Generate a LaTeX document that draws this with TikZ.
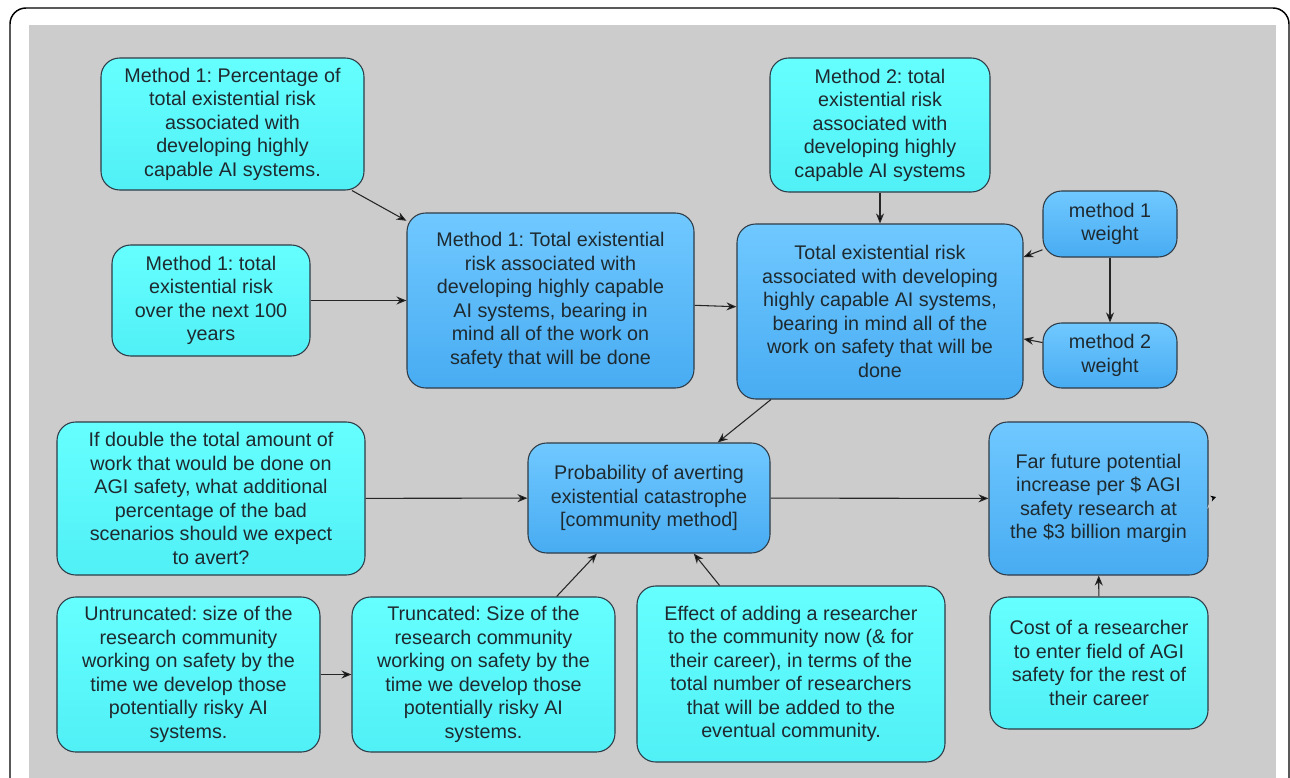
\documentclass[tikz,border=0pt]{standalone}
\usepackage{fontspec}
\setmainfont{Liberation Sans}
\frenchspacing
\usetikzlibrary{arrows.meta,positioning}
\definecolor{bggrey}{HTML}{CCCCCC}
\definecolor{cyantop}{HTML}{66FFFF}
\definecolor{cyanbot}{HTML}{50F0F6}
\definecolor{bluetop}{HTML}{70C8FF}
\definecolor{bluebot}{HTML}{48ACF2}
\definecolor{edgecol}{HTML}{2E3B46}
\definecolor{textcol}{HTML}{1E2A30}

\begin{document}
\begin{tikzpicture}[x=0.75pt,y=-0.75pt,->,>={Stealth[length=7.5pt,width=6pt]},line width=0.8pt,
    input node/.style={draw=edgecol,rounded corners=14pt,top color=cyantop,bottom color=cyanbot,
        align=center,inner sep=0pt,text=textcol,font=\fontsize{14.8}{17.6}\selectfont},
    calc node/.style={input node,top color=bluetop,bottom color=bluebot}]

                % page frame
                \useasboundingbox (0,0) rectangle (1290,778);
                \clip (0,0) rectangle (1290,778);
                \fill[white] (0,0) rectangle (1290,778);
                \draw[-,line width=1.1pt,rounded corners=12pt] (10,8) rectangle (1289,830);
                \fill[bggrey] (29,25) rectangle (1276,800);

                % top row
                \node[input node,minimum width=197.25pt,minimum height=99pt] (pct) at (232.5,124)
                    {Method 1: Percentage of\\total existential risk\\associated with\\developing highly\\capable AI systems.};
                \node[input node,minimum width=148.5pt,minimum height=83.25pt] (hundred) at (211,300.5)
                    {Method 1: total\\existential risk\\over the next 100\\years};
                \node[calc node,minimum width=215.25pt,minimum height=131.25pt] (mone) at (550.5,300.5)
                    {Method 1: Total existential\\risk associated with\\developing highly capable\\AI systems, bearing in\\mind all of the work on\\safety that will be done};
                \node[input node,minimum width=165pt,minimum height=100.5pt] (mtwo) at (880,125)
                    {Method 2: total\\existential risk\\associated with\\developing highly\\capable AI systems};
                \node[calc node,minimum width=214.5pt,minimum height=131.25pt] (total) at (880,311.5)
                    {Total existential risk\\associated with developing\\highly capable AI systems,\\bearing in mind all of the\\work on safety that will be\\done};
                \node[calc node,minimum width=100.5pt,minimum height=49.5pt] (wone) at (1110,224)
                    {method 1\\weight};
                \node[calc node,minimum width=100.5pt,minimum height=48.75pt] (wtwo) at (1110,355.5)
                    {method 2\\weight};

                % middle row
                \node[input node,minimum width=231pt,minimum height=114.75pt] (double) at (211,498.5)
                    {If double the total amount of\\work that would be done on\\AGI safety, what additional\\percentage of the bad\\scenarios should we expect\\to avert?};
                \node[calc node,minimum width=181.5pt,minimum height=82.5pt] (prob) at (649,498)
                    {Probability of averting\\existential catastrophe\\{[community method]}};
                \node[calc node,minimum width=164.25pt,minimum height=114.75pt] (far) at (1098.5,498.5)
                    {Far future potential\\increase per \$ AGI\\safety research at\\the \$3 billion margin};

                % bottom row
                \node[input node,minimum width=197.25pt,minimum height=116.25pt] (untrunc) at (188.5,674.5)
                    {Untruncated: size of the\\research community\\working on safety by the\\time we develop those\\potentially risky AI\\systems.};
                \node[input node,minimum width=197.25pt,minimum height=116.25pt] (trunc) at (483.5,674.5)
                    {Truncated: Size of the\\research community\\working on safety by the\\time we develop those\\potentially risky AI\\systems.};
                \node[input node,minimum width=231pt,minimum height=132pt] (effect) at (791,674)
                    {Effect of adding a researcher\\to the community now (\& for\\their career), in terms of the\\total number of researchers\\that will be added to the\\eventual community.};
                \node[input node,minimum width=163.5pt,minimum height=99pt] (cost) at (1099,663)
                    {Cost of a researcher\\to enter field of AGI\\safety for the rest of\\their career};

                \coordinate (stub) at (1216,497);

                \path[draw=black!85]
                    (pct) edge (mone)
                    (hundred) edge (mone)
                    (mone) edge (total)
                    (mtwo) edge (total)
                    (wone) edge (total)
                    (wone) edge (wtwo)
                    (wtwo) edge (total)
                    (total) edge (prob)
                    (double) edge (prob)
                    (prob) edge (far)
                    (untrunc) edge (trunc)
                    (trunc) edge (prob)
                    (effect) edge (prob)
                    (cost) edge (far)
                ;
                \path[draw=bggrey] ([xshift=2pt]far.east) edge[>={Stealth[length=4pt,width=4.5pt,color=black]}] (stub);

            \end{tikzpicture}
\end{document}
